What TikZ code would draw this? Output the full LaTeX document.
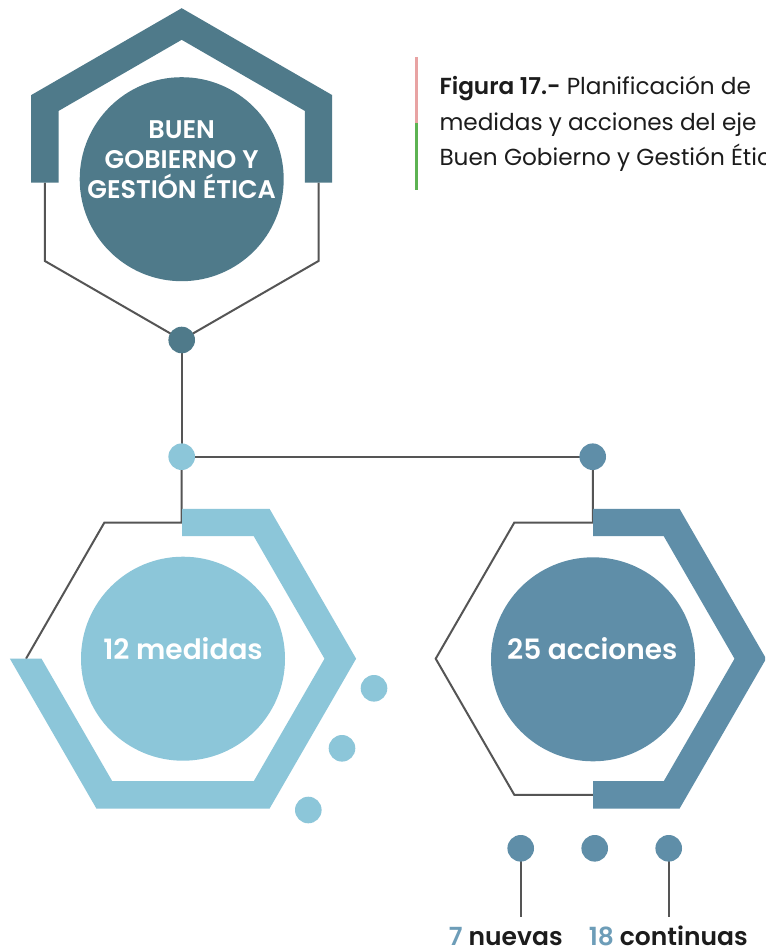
\documentclass[tikz,border=0pt]{standalone}
\usepackage{fontspec}
\setmainfont{Poppins}[BoldFont={Poppins SemiBold}]
\definecolor{dteal}{HTML}{4F7A8A}
\definecolor{lblue}{HTML}{8CC6D9}
\definecolor{mblue}{HTML}{5F8EA8}
\definecolor{numblue}{HTML}{6D9DB8}
\definecolor{linegray}{HTML}{555555}
\definecolor{barpink}{HTML}{E8A3A3}
\definecolor{bargreen}{HTML}{5DB352}
\definecolor{txt}{HTML}{1C1C1C}
\tikzset{
  dot/.style={circle, inner sep=0pt, minimum size=26.6pt},
  bigdisc/.style={circle, inner sep=0pt, minimum size=204pt},
  thinline/.style={draw=linegray, line width=2pt},
  disctext/.style={text=white, inner sep=0pt},
}
\begin{document}
\begin{tikzpicture}[x=1pt,y=-1pt]
\clip (0,0) rectangle (765,952);
\fill[white] (0,0) rectangle (765,952);

% dots (named first, drawn later on top)
\path (181.7,340) node[dot] (d0) {}
      (181.7,456.7) node[dot] (d1) {}
      (592.7,456.7) node[dot] (d2) {};
\coordinate (l1) at (520.7,916.7);
\coordinate (l3) at (668.7,916.7);
\path (520.7,848.3) node[dot] (b1) {}
      (594.7,848.3) node[dot] (b2) {}
      (668.7,848.3) node[dot] (b3) {};

% ---------- top hexagon ----------
\draw[thinline] (44.9,182.7) -- (44.9,261) -- (d0.center) -- (318.5,261) -- (318.5,182.7);
\fill[dteal] (31.2,182.7) -- (31.2,95.1) -- (181.7,8.2) -- (332.2,95.1) -- (332.2,182.7)
  -- (304.8,182.7) -- (304.8,110.9) -- (181.7,39.8) -- (58.6,110.9) -- (58.6,182.7) -- cycle;
\node[bigdisc, fill=dteal] (c0) at (181.7,179.2) {};
\node[disctext, anchor=base] (t0) at (181.7,138.3)
  {\parbox[t]{240pt}{\centering\fontsize{25.5}{30}\selectfont\bfseries BUEN\\GOBIERNO Y\\GESTIÓN ÉTICA}};

% ---------- connectors ----------
\draw[thinline] (d0.center) -- (d1.center);
\draw[thinline] (d1.center) -- (d2.center);

% ---------- left hexagon ----------
\draw[thinline] (d1.center) -- (181.7,522.5) -- (104.4,522.5) -- (26,658.7);
\fill[lblue] (182,508.8) -- (269.55,508.8) -- (356.1,658.7) -- (269.55,808.6) -- (96.45,808.6)
  -- (9.9,658.7) -- (41.5,658.7) -- (112.25,781.2) -- (253.75,781.2) -- (324.5,658.7)
  -- (253.75,536.2) -- (182,536.2) -- cycle;
\node[bigdisc, fill=lblue] (c1) at (183,658.7) {};
\node[disctext, anchor=base, font=\fontsize{28}{34}\selectfont\bfseries] (t1) at (183,659.3) {12 medidas};
\path (374,688.3) node[dot, fill=lblue] (e1) {}
      (342,748.3) node[dot, fill=lblue] (e2) {}
      (308.3,810) node[dot, fill=lblue] (e3) {};

% ---------- right hexagon ----------
\draw[thinline] (d2.center) -- (593,522.5) -- (514.35,522.5) -- (435.7,658.7) -- (514.35,794.9) -- (593,794.9);
\fill[mblue] (593,508.8) -- (679.55,508.8) -- (766.1,658.7) -- (679.55,808.6) -- (593,808.6)
  -- (593,781.2) -- (663.75,781.2) -- (734.5,658.7) -- (663.75,536.2) -- (593,536.2) -- cycle;
\node[bigdisc, fill=mblue] (c2) at (593,659.3) {};
\node[disctext, anchor=base, font=\fontsize{28}{34}\selectfont\bfseries] (t2) at (592.3,659.3) {25 acciones};

% ---------- bottom dots and labels ----------
\draw[thinline] (b1.center) -- (l1);
\draw[thinline] (b3.center) -- (l3);
\node[dot, fill=mblue] at (b1) {};
\node[dot, fill=mblue] at (b2) {};
\node[dot, fill=mblue] at (b3) {};
\node[anchor=base, inner sep=0pt, text=txt, font=\fontsize{25}{30}\selectfont\bfseries] (n1) at (505.8,945)
  {\textcolor{numblue}{7} nuevas};
\node[anchor=base, inner sep=0pt, text=txt, font=\fontsize{25}{30}\selectfont\bfseries] (n2) at (668.3,945)
  {\textcolor{numblue}{18} continuas};

% top dots drawn on top of lines
\node[dot, fill=dteal] at (d0) {};
\node[dot, fill=lblue] at (d1) {};
\node[dot, fill=mblue] at (d2) {};

% ---------- caption ----------
\fill[barpink] (415.2,56.7) rectangle (418.2,123.3);
\fill[bargreen] (415.2,123.3) rectangle (418.2,190);
\node[anchor=base west, inner sep=0pt, text=txt] (cap) at (439.3,95)
  {\parbox[t]{400pt}{\raggedright\fontsize{23.2}{35.5}\selectfont\textbf{Figura 17.-} Planificación de\\medidas y acciones del eje\\Buen Gobierno y Gestión Ética}};
\end{tikzpicture}
\end{document}
